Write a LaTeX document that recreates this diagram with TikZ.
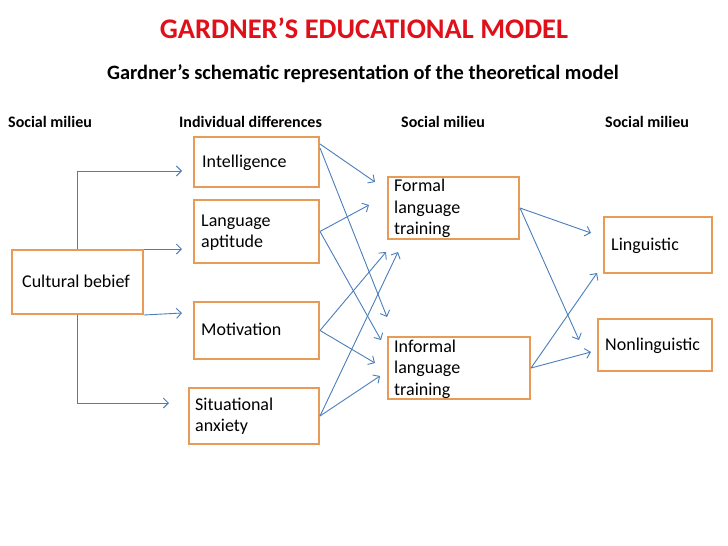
\documentclass[tikz,border=0pt]{standalone}
\usepackage{fontspec}
\setmainfont{Carlito}
\usetikzlibrary{arrows.meta,calc}
\definecolor{titlered}{HTML}{E0101A}
\definecolor{boxorange}{HTML}{E89A58}
\definecolor{lineblue}{HTML}{4A7EBB}
\tikzset{
  box/.style={draw=boxorange, line width=2pt, rectangle, inner sep=0pt, anchor=north west},
  txt/.style={anchor=base west, inner sep=0pt, align=left, font=\fontsize{18}{21.5}\selectfont},
  head/.style={anchor=base west, inner sep=0pt, font=\fontsize{16}{19}\selectfont\bfseries},
  conn/.style={draw=lineblue, line width=0.9pt, -{Straight Barb[length=5pt,width=10pt]}}
}
\begin{document}
\begin{tikzpicture}[x=1pt,y=-1pt]
\useasboundingbox (0,0) rectangle (728,546);
% titles
\node[anchor=base, inner sep=0pt, text=titlered, font=\fontsize{28.4}{33}\selectfont\bfseries] (title) at (364,38) {GARDNER’S EDUCATIONAL MODEL};
\node[anchor=base, inner sep=0pt, font=\fontsize{20.4}{24}\selectfont\bfseries] (sub) at (363,79) {Gardner’s schematic representation of the theoretical model};
\node[head] (h1) at (8,127) {Social milieu};
\node[head] (h2) at (179,127) {Individual differences};
\node[head] (h3) at (401,127) {Social milieu};
\node[head] (h4) at (605,127) {Social milieu};
% boxes
\node[box, minimum width=131pt, minimum height=64pt] (cult) at (11,249) {};
\node[box, minimum width=125pt, minimum height=50pt] (intel) at (193,136) {};
\node[box, minimum width=125pt, minimum height=63pt] (lang) at (193,199) {};
\node[box, minimum width=125pt, minimum height=57pt] (mot) at (193,301) {};
\node[box, minimum width=130pt, minimum height=56pt] (sa) at (188,387) {};
\node[box, minimum width=131pt, minimum height=62pt] (formal) at (387,176) {};
\node[box, minimum width=142pt, minimum height=62pt] (informal) at (387,336) {};
\node[box, minimum width=108pt, minimum height=56pt] (ling) at (603,216) {};
\node[box, minimum width=114pt, minimum height=52pt] (nonling) at (597,318) {};
% texts (base anchor = baseline of the last line)
\node[txt] (tcult) at (22,287) {Cultural bebief};
\node[txt] (tintel) at (202,167) {Intelligence};
\node[txt] (tlang) at (201,247.5) {Language\\aptitude};
\node[txt] (tmot) at (201,335) {Motivation};
\node[txt] (tsa) at (195,431.5) {Situational\\anxiety};
\node[txt] (tformal) at (394,234.5) {Formal\\language\\training};
\node[txt] (tinformal) at (394,395) {Informal\\language\\training};
\node[txt] (tling) at (611,250) {Linguistic};
\node[txt] (tnonling) at (605,350) {Nonlinguistic};
% free arrow ends
\coordinate (c1) at (182,171);
\coordinate (c2) at (182,249);
\coordinate (c3) at (182,313);
\coordinate (c4) at (169,403);
\coordinate (f1) at (375,182);
\coordinate (f2) at (369,205);
\coordinate (f3) at (386,252);
\coordinate (f4) at (398,252);
\coordinate (i1) at (387,317);
\coordinate (i2) at (381,340);
\coordinate (i3) at (375,363);
\coordinate (i4) at (380,376);
\coordinate (l1) at (591,233);
\coordinate (l2) at (597,273);
\coordinate (n1) at (579,340);
\coordinate (n2) at (591,352);
% connectors from cultural belief
\draw[conn] (cult.north) |- (c1);
\draw[conn] (cult.north east) -- (c2);
\draw[conn] (cult.south east) -- (c3);
\draw[conn] (cult.south) |- (c4);
% individual differences to training
\draw[conn] ($(intel.east)+(0,-18)$) -- (f1);
\draw[conn] ($(intel.east)+(0,-14)$) -- (i1);
\draw[conn] (lang.east) -- (f2);
\draw[conn] (lang.east) -- (i2);
\draw[conn] (mot.east) -- (f3);
\draw[conn] (mot.east) -- (i3);
\draw[conn] (sa.east) -- (f4);
\draw[conn] (sa.east) -- (i4);
% training to outcomes
\draw[conn] (formal.east) -- (l1);
\draw[conn] (formal.east) -- (n1);
\draw[conn] (informal.east) -- (n2);
\draw[conn] (informal.east) -- (l2);
\end{tikzpicture}
\end{document}
